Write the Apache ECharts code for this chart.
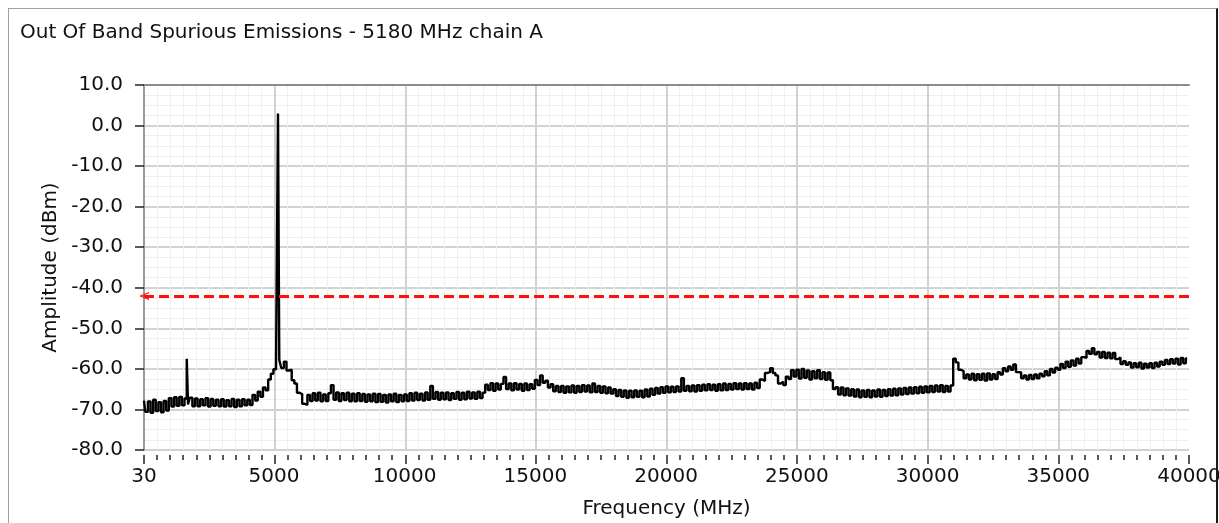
<!DOCTYPE html>
<html>
<head>
<meta charset="utf-8">
<title>Out Of Band Spurious Emissions</title>
<script src="https://cdn.jsdelivr.net/npm/echarts@6/dist/echarts.min.js"></script>
<style>
  html, body { margin: 0; padding: 0; background: #fff; }
  #chart { position: absolute; left: 0; top: 0; width: 1219px; height: 523px; }
  #frame {
    position: absolute; left: 8px; top: 8px; right: 1px; bottom: -10px;
    border-left: 1px solid #a0a0a0; border-top: 1px solid #a0a0a0; border-right: 2px solid #1a1a1a;
    pointer-events: none;
  }
</style>
</head>
<body>
<div id="chart"></div>
<div id="frame"></div>
<script>
// sweep bins: start + i * step (MHz)
const sweepStartMHz = 30;
const sweepStepMHz = 100;

// measured amplitude per bin (dBm), one row per 1000 MHz
const traceDbm = [
  -67.8, -70.6, -68.0, -70.8, -67.6, -70.4, -68.2, -70.7, -67.9, -70.3,
  -67.2, -69.3, -67.0, -69.1, -66.9, -69.0, -67.3, -68.8, -67.1, -69.2,
  -67.3, -69.2, -67.5, -69.0, -67.2, -69.3, -67.4, -69.1, -67.6, -69.2,
  -67.5, -69.3, -67.7, -69.2, -67.4, -69.4, -67.6, -69.2, -67.5, -69.0,
  -67.6, -68.9, -66.4, -67.8, -65.6, -66.9, -64.6, -65.3, -62.6, -61.2,
  -60.1, -59.4, -57.8, -59.8, -58.2, -60.4, -60.2, -62.8, -63.6, -65.9,
  -66.2, -68.6, -68.9, -66.4, -67.9, -66.0, -67.8, -65.9, -68.0, -66.3,
  -67.9, -66.0, -64.0, -67.6, -65.8, -67.9, -66.0, -67.7, -65.9, -68.0,
  -66.1, -68.0, -66.0, -67.9, -66.2, -68.1, -66.3, -68.0, -66.1, -68.2,
  -66.2, -68.1, -66.4, -68.3, -66.3, -68.0, -66.1, -68.2, -66.4, -68.0,
  -66.3, -67.9, -66.0, -67.8, -65.9, -67.7, -66.1, -67.8, -65.8, -67.6,
  -64.2, -67.4, -65.7, -67.6, -65.9, -67.5, -65.8, -67.7, -66.0, -67.4,
  -65.7, -67.6, -65.9, -67.5, -65.6, -67.3, -65.8, -67.4, -65.6, -67.2,
  -65.9, -63.9, -65.2, -63.5, -65.4, -63.6, -65.1, -63.7, -62.0, -65.0,
  -63.6, -65.3, -63.5, -65.1, -63.7, -65.4, -63.6, -65.2, -63.8, -64.9,
  -62.7, -64.0, -61.6, -63.4, -62.9, -64.6, -63.8, -65.5, -64.2, -65.7,
  -64.2, -65.9, -64.3, -65.8, -64.1, -65.9, -64.2, -65.7, -64.0, -65.6,
  -64.1, -65.8, -63.6, -65.7, -64.2, -65.9, -64.3, -66.0, -64.6, -66.1,
  -65.0, -66.7, -65.2, -66.9, -65.3, -67.1, -65.4, -67.0, -65.3, -66.9,
  -65.4, -67.0, -65.1, -66.8, -64.9, -66.4, -64.7, -66.1, -64.5, -65.9,
  -64.3, -65.8, -64.4, -65.7, -64.3, -65.6, -62.3, -65.4, -64.2, -65.5,
  -64.1, -65.6, -64.0, -65.4, -63.9, -65.3, -63.8, -65.2, -63.9, -65.4,
  -63.8, -65.3, -63.6, -65.2, -63.7, -65.1, -63.5, -65.0, -63.6, -65.1,
  -63.5, -65.0, -63.6, -65.1, -63.4, -64.7, -62.6, -63.0, -61.0, -60.8,
  -59.8, -61.0, -61.6, -63.6, -63.2, -64.0, -61.9, -62.5, -60.3, -61.9,
  -60.2, -62.4, -60.0, -62.2, -60.4, -62.6, -60.6, -62.3, -60.3, -62.5,
  -60.8, -62.7, -60.9, -62.8, -65.0, -64.5, -66.3, -64.6, -66.5, -64.8,
  -66.6, -65.0, -66.8, -65.1, -67.0, -65.3, -66.9, -65.2, -67.0, -65.3,
  -66.8, -65.1, -66.9, -65.2, -66.7, -65.0, -66.6, -64.9, -66.5, -64.8,
  -66.3, -64.7, -66.2, -64.6, -66.1, -64.5, -66.0, -64.4, -65.9, -64.3,
  -65.8, -64.2, -65.7, -64.1, -65.6, -64.0, -65.7, -64.2, -65.6, -64.1,
  -57.5, -58.4, -60.2, -60.6, -62.3, -61.4, -62.6, -61.2, -62.8, -61.3,
  -62.7, -61.2, -62.9, -61.1, -62.6, -61.3, -62.5, -60.8, -61.4, -59.8,
  -60.6, -59.4, -60.2, -58.9, -60.8, -60.9, -62.3, -61.6, -62.6, -61.5,
  -62.5, -61.4, -62.3, -61.2, -61.8, -60.6, -61.6, -60.0, -60.9, -59.7,
  -60.2, -58.8, -59.8, -58.2, -59.5, -57.9, -59.2, -57.5, -58.7, -57.1,
  -57.3, -55.6, -56.3, -54.9, -56.4, -55.8, -57.2, -55.8, -57.3, -56.0,
  -57.4, -56.1, -57.6, -57.2, -58.8, -58.1, -59.0, -58.4, -59.7, -58.6,
  -59.6, -58.5, -59.9, -58.7, -59.7, -58.6, -59.8, -58.5, -59.4, -58.2,
  -59.0, -57.8, -58.8, -57.6, -58.7, -57.5, -58.9, -57.3, -58.6, -57.4
];

// narrow spurs between bins: [MHz, dBm]
const spurs = [[1700, -57.5], [5180, 3.0]];

const limitDbm = -42;
const xLabelValues = [30, 5000, 10000, 15000, 20000, 25000, 30000, 35000, 40000];
const freqMin = 30, freqMax = 40000;
const ampMin = -80, ampMax = 10, ampStep = 10;

const font = 'DejaVu Sans';
const fontSize = 20;

const traceData = traceDbm.map((v, i) => [sweepStartMHz + i * sweepStepMHz, v]);
spurs.forEach(s => traceData.push(s));
traceData.sort((a, b) => a[0] - b[0]);

// open "<" head for the limit line (drawn pointing up, echarts turns it)
const chevron = 'path://M0,10 L5,0 L10,10 L8.4,10 L5,3.2 L1.6,10 Z';

const chart = echarts.init(document.getElementById('chart'));
chart.setOption({
  animation: false,
  backgroundColor: '#fff',
  title: {
    text: 'Out Of Band Spurious Emissions - 5180 MHz chain A',
    left: 15,
    top: 18,
    textStyle: { fontFamily: font, fontSize: fontSize, fontWeight: 'normal', color: '#111' }
  },
  grid: { left: 144, right: 30, top: 85, bottom: 73, outerBoundsMode: 'none' },
  xAxis: [
    {
      // data axis, carries the labels
      type: 'value', position: 'bottom', offset: 5,
      min: freqMin, max: freqMax,
      axisLine: { show: false },
      axisTick: { show: false },
      splitLine: { show: false },
      axisLabel: {
        customValues: xLabelValues, margin: 12,
        formatter: v => String(v),
        fontFamily: font, fontSize: fontSize, color: '#111'
      },
      name: 'Frequency (MHz)', nameLocation: 'middle', nameGap: 44,
      nameTextStyle: { fontFamily: font, fontSize: fontSize, color: '#111' }
    },
    {
      // tick marks below the plot
      type: 'value', position: 'bottom', offset: 5,
      min: 0, max: freqMax, interval: 5000,
      axisLine: { show: false },
      axisLabel: { show: false },
      splitLine: { show: false },
      axisTick: { show: true, length: 9, lineStyle: { color: '#222', width: 1.5 } },
      minorTick: { show: true, splitNumber: 10, length: 5, lineStyle: { color: '#222', width: 1.5 } }
    },
    {
      // grid + top border
      type: 'value', position: 'top',
      min: 0, max: freqMax, interval: 5000,
      axisLine: { show: true, lineStyle: { color: '#8c8c8c', width: 2 } },
      axisTick: { show: false },
      axisLabel: { show: false },
      splitLine: { show: true, showMaxLine: false, lineStyle: { color: '#d2d2d2', width: 2 } },
      minorTick: { show: false, splitNumber: 10 },
      minorSplitLine: { show: true, lineStyle: { color: '#efefef', width: 1 } }
    }
  ],
  yAxis: {
    type: 'value', min: ampMin, max: ampMax, interval: ampStep,
    axisLine: { show: true, lineStyle: { color: '#9a9a9a', width: 2 } },
    axisTick: { show: true, length: 9, lineStyle: { color: '#222', width: 1.5 } },
    axisLabel: {
      formatter: v => v.toFixed(1), margin: 21,
      fontFamily: font, fontSize: fontSize, color: '#111'
    },
    splitLine: { show: true, lineStyle: { color: '#d2d2d2', width: 2 } },
    minorTick: { show: false, splitNumber: 4 },
    minorSplitLine: { show: true, lineStyle: { color: '#efefef', width: 1 } },
    name: 'Amplitude (dBm)', nameLocation: 'middle', nameGap: 83,
    nameTextStyle: { fontFamily: font, fontSize: fontSize, color: '#111' }
  },
  series: [
    {
      name: 'chain A',
      type: 'line',
      xAxisIndex: 0,
      data: traceData,
      step: 'middle',
      symbol: 'none',
      lineStyle: { color: '#000', width: 2.4 },
      z: 3
    },
    {
      name: 'limit',
      type: 'line',
      xAxisIndex: 0,
      data: [],
      markLine: {
        silent: true,
        symbol: [chevron, 'none'],
        symbolSize: [8, 10],
        label: { show: false },
        lineStyle: { color: '#ff1010', width: 3, type: [10, 5] },
        data: [{ yAxis: limitDbm }]
      },
      z: 4
    }
  ]
});
</script>
</body>
</html>
